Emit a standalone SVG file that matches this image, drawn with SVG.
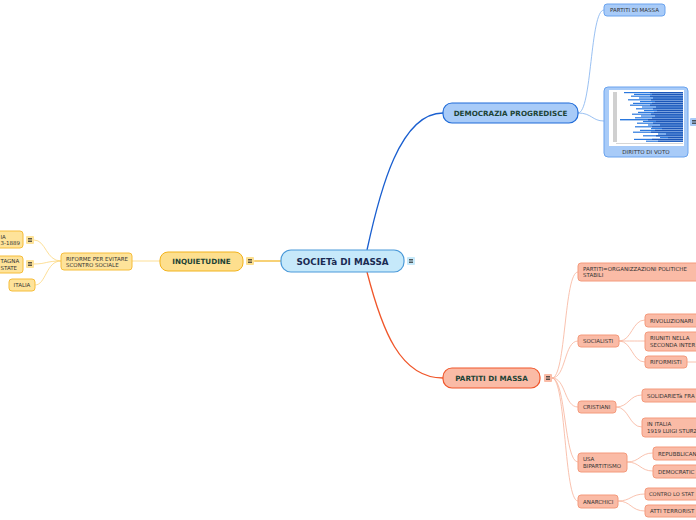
<svg xmlns="http://www.w3.org/2000/svg" width="696" height="520" viewBox="0 0 696 520">
<defs>
<style>
text{font-family:"DejaVu Sans","Liberation Sans",sans-serif;}
.main{font-weight:bold;font-size:7.2px;fill:#1d4436;}
.small{font-size:5.5px;fill:#333;}
.yel{fill:#fee39a;stroke:#f6bd3a;stroke-width:1;}
.yelmain{fill:#fddf8e;stroke:#f2b31c;stroke-width:1;}
.blue{fill:#a8cbf8;stroke:#6aa3ee;stroke-width:1;}
.bluemain{fill:#a8cbf8;stroke:#1f6bd8;stroke-width:1.2;}
.sal{fill:#fabba6;stroke:#f49a7c;stroke-width:1;}
.salmain{fill:#fabba6;stroke:#f0562a;stroke-width:1.2;}
.icon line{stroke:#333;stroke-width:0.8;}
.c{fill:none;}
</style>
</defs>
<g id="connectors">
<path class="c" d="M367,250 C380,190 400,113 443,113" stroke="#1a5fd0" stroke-width="1.3"/>
<path class="c" d="M367,272 C382,330 400,378 443,378" stroke="#f0562a" stroke-width="1.3"/>
<path class="c" d="M254,261 L281,261" stroke="#f2b31c" stroke-width="1.2"/>
<path class="c" d="M160,261 L132,261" stroke="#fcd77c" stroke-width="0.8"/>
<path class="c" d="M61,261 C46,261 46,240 34,240" stroke="#fcd77c" stroke-width="0.8"/>
<path class="c" d="M61,261 C46,261 46,264 34,264" stroke="#fcd77c" stroke-width="0.8"/>
<path class="c" d="M61,261 C46,261 46,285 35,285" stroke="#fcd77c" stroke-width="0.8"/>
<path class="c" d="M578,113 C592,113 590,10 604,10" stroke="#7fb0ef" stroke-width="0.8"/>
<path class="c" d="M578,113 C592,113 592,121 604,121" stroke="#7fb0ef" stroke-width="0.8"/>
<g stroke="#f8b39a" stroke-width="0.8" fill="none">
<path d="M552,378 C566,378 564,272 578,272"/>
<path d="M552,378 C566,378 564,341 578,341"/>
<path d="M552,378 C566,378 564,407 578,407"/>
<path d="M552,378 C566,378 564,462 578,462"/>
<path d="M552,378 C566,378 564,501 578,501"/>
<path d="M619,341 C632,341 632,320 645,320"/>
<path d="M619,341 C632,341 632,341 645,341"/>
<path d="M619,341 C632,341 632,362 645,362"/>
<path d="M687,362 L696,362"/>
<path d="M616,407 C629,407 629,395 642,395"/>
<path d="M616,407 C629,407 629,427 642,427"/>
<path d="M627,462 C640,462 640,453 653,453"/>
<path d="M627,462 C640,462 640,471 653,471"/>
<path d="M618,501 C631,501 631,494 645,494"/>
<path d="M618,501 C631,501 631,511 645,511"/>
</g>
</g>
<g id="central">
<rect x="281" y="250" width="123" height="22" rx="10" fill="#c6e9fa" stroke="#4b9ad9" stroke-width="1.2"/>
<text x="342.5" y="264.8" text-anchor="middle" font-weight="bold" font-size="8.8" fill="#1a2b52">SOCIETà DI MASSA</text>
<g class="icon"><rect x="407" y="257" width="8" height="8" rx="1" fill="#c6e9fa"/><line x1="409" y1="259.5" x2="413" y2="259.5"/><line x1="409" y1="261" x2="413" y2="261"/><line x1="409" y1="262.5" x2="413" y2="262.5"/></g>
</g>
<g id="inquietudine">
<rect x="160" y="252" width="83" height="19" rx="8" class="yelmain"/>
<text x="201.5" y="264" text-anchor="middle" class="main">INQUIETUDINE</text>
<g class="icon"><rect x="246" y="257" width="8" height="8" rx="1" fill="#fddf8e"/><line x1="248" y1="259.5" x2="252" y2="259.5"/><line x1="248" y1="261" x2="252" y2="261"/><line x1="248" y1="262.5" x2="252" y2="262.5"/></g>
</g>
<g id="riforme">
<rect x="61" y="253" width="71" height="17" rx="3" class="yel"/>
<text x="66" y="260.5" class="small">RIFORME PER EVITARE</text>
<text x="66" y="267" class="small">SCONTRO SOCIALE</text>
</g>
<g id="germania">
<rect x="-20" y="231" width="43" height="17" rx="3" class="yel"/>
<text x="0.5" y="238.5" class="small">IA</text>
<text x="0.5" y="245" class="small">3-1889</text>
<g class="icon"><rect x="26" y="236" width="8" height="8" rx="1" fill="#fee39a"/><line x1="28" y1="238.5" x2="32" y2="238.5"/><line x1="28" y1="240" x2="32" y2="240"/><line x1="28" y1="241.5" x2="32" y2="241.5"/></g>
</g>
<g id="granbretagna">
<rect x="-20" y="256" width="43" height="17" rx="3" class="yel"/>
<text x="0.5" y="263" class="small">TAGNA</text>
<text x="0.5" y="269.5" class="small">STATE</text>
<g class="icon"><rect x="26" y="260" width="8" height="8" rx="1" fill="#fee39a"/><line x1="28" y1="262.5" x2="32" y2="262.5"/><line x1="28" y1="264" x2="32" y2="264"/><line x1="28" y1="265.5" x2="32" y2="265.5"/></g>
</g>
<g id="italia">
<rect x="9" y="279" width="26" height="12" rx="3" class="yel"/>
<text x="22" y="287" text-anchor="middle" class="small">ITALIA</text>
</g>
<g id="democrazia">
<rect x="443" y="103" width="135" height="20" rx="9" class="bluemain"/>
<text x="510.5" y="115.5" text-anchor="middle" class="main">DEMOCRAZIA PROGREDISCE</text>
</g>
<g id="partiti-top">
<rect x="604" y="4" width="61" height="12" rx="3" class="blue"/>
<text x="634.5" y="12" text-anchor="middle" class="small">PARTITI DI MASSA</text>
</g>
<g id="diritto">
<rect x="604" y="87" width="84" height="70" rx="4" class="blue"/>
<rect x="609" y="90" width="75" height="56" fill="#fff"/>
<g fill="#d0d0d0">
<rect x="613" y="92" width="4" height="50"/>
</g>
<g fill="#2a78de">
<rect x="624" y="92" width="59" height="1.2"/>
<rect x="634" y="93.8" width="49" height="1.2"/>
<rect x="631" y="95.6" width="52" height="1.2"/>
<rect x="639" y="97.4" width="44" height="1.2"/>
<rect x="628" y="99.2" width="55" height="1.2"/>
<rect x="640" y="101" width="43" height="1.2"/>
<rect x="633" y="102.8" width="50" height="1.2"/>
<rect x="630" y="104.6" width="53" height="1.2"/>
<rect x="642" y="106.4" width="41" height="1.2"/>
<rect x="636" y="108.2" width="47" height="1.2"/>
<rect x="644" y="110" width="39" height="1.2"/>
<rect x="638" y="111.8" width="45" height="1.2"/>
<rect x="632" y="113.6" width="51" height="1.2"/>
<rect x="641" y="115.4" width="42" height="1.2"/>
<rect x="635" y="117.2" width="48" height="1.2"/>
<rect x="620" y="119" width="63" height="1.4"/>
<rect x="643" y="120.8" width="40" height="1.2"/>
<rect x="637" y="122.6" width="46" height="1.2"/>
<rect x="648" y="124.4" width="35" height="1.2"/>
<rect x="635" y="126.2" width="48" height="1.2"/>
<rect x="651" y="128" width="32" height="1.2"/>
<rect x="640" y="129.8" width="43" height="1.2"/>
<rect x="633" y="131.6" width="50" height="1.2"/>
<rect x="658" y="133.4" width="25" height="1.2"/>
<rect x="643" y="135.2" width="40" height="1.2"/>
<rect x="660" y="137" width="23" height="1.2"/>
<rect x="634" y="138.8" width="49" height="1.2"/>
<rect x="646" y="140.6" width="37" height="1.2"/>
</g>
<g fill="#1c56b8">
<rect x="650" y="92" width="33" height="1.2"/>
<rect x="652" y="93.8" width="31" height="1.2"/>
<rect x="650" y="95.6" width="33" height="1.2"/>
<rect x="653" y="97.4" width="30" height="1.2"/>
<rect x="651" y="99.2" width="32" height="1.2"/>
<rect x="655" y="101" width="28" height="1.2"/>
<rect x="652" y="102.8" width="31" height="1.2"/>
<rect x="650" y="104.6" width="33" height="1.2"/>
<rect x="656" y="106.4" width="27" height="1.2"/>
<rect x="653" y="108.2" width="30" height="1.2"/>
<rect x="657" y="110" width="26" height="1.2"/>
<rect x="654" y="111.8" width="29" height="1.2"/>
<rect x="651" y="113.6" width="32" height="1.2"/>
<rect x="655" y="115.4" width="28" height="1.2"/>
<rect x="652" y="117.2" width="31" height="1.2"/>
<rect x="648" y="119" width="35" height="1.4"/>
<rect x="656" y="120.8" width="27" height="1.2"/>
<rect x="653" y="122.6" width="30" height="1.2"/>
<rect x="660" y="124.4" width="23" height="1.2"/>
<rect x="652" y="126.2" width="31" height="1.2"/>
<rect x="662" y="128" width="21" height="1.2"/>
<rect x="655" y="129.8" width="28" height="1.2"/>
<rect x="651" y="131.6" width="32" height="1.2"/>
<rect x="666" y="133.4" width="17" height="1.2"/>
<rect x="656" y="135.2" width="27" height="1.2"/>
<rect x="668" y="137" width="15" height="1.2"/>
<rect x="652" y="138.8" width="31" height="1.2"/>
<rect x="658" y="140.6" width="25" height="1.2"/>
</g>
<rect x="616" y="143" width="67" height="0.6" fill="#bbb"/>
<text x="646" y="154" text-anchor="middle" class="small">DIRITTO DI VOTO</text>
<g class="icon"><rect x="690" y="118" width="8" height="8" rx="1" fill="#a8cbf8"/><line x1="692" y1="120.5" x2="696" y2="120.5"/><line x1="692" y1="122" x2="696" y2="122"/><line x1="692" y1="123.5" x2="696" y2="123.5"/></g>
</g>
<g id="partiti">
<rect x="443" y="368" width="97" height="20" rx="9" class="salmain"/>
<text x="491.5" y="380.5" text-anchor="middle" class="main">PARTITI DI MASSA</text>
<g class="icon"><rect x="544" y="374" width="8" height="8" rx="1" fill="#fabba6"/><line x1="546" y1="376.5" x2="550" y2="376.5"/><line x1="546" y1="378" x2="550" y2="378"/><line x1="546" y1="379.5" x2="550" y2="379.5"/></g>
</g>
<g id="organizzazioni">
<rect x="578" y="263" width="125" height="18" rx="3" class="sal"/>
<text x="583" y="270.5" class="small">PARTITI=ORGANIZZAZIONI POLITICHE</text>
<text x="583" y="277" class="small">STABILI</text>
</g>
<g id="socialisti">
<rect x="578" y="335" width="41" height="12" rx="3" class="sal"/>
<text x="583" y="343" class="small">SOCIALISTI</text>
</g>
<g id="rivoluzionari">
<rect x="645" y="314" width="60" height="13" rx="3" class="sal"/>
<text x="650" y="322.5" class="small">RIVOLUZIONARI</text>
</g>
<g id="riuniti">
<rect x="645" y="332" width="60" height="19" rx="3" class="sal"/>
<text x="650" y="340" class="small">RIUNITI NELLA</text>
<text x="650" y="346.5" class="small">SECONDA INTER</text>
</g>
<g id="riformisti">
<rect x="645" y="356" width="42" height="12" rx="3" class="sal"/>
<text x="650" y="364" class="small">RIFORMISTI</text>
</g>
<g id="cristiani">
<rect x="578" y="401" width="38" height="12" rx="3" class="sal"/>
<text x="583" y="409" class="small">CRISTIANI</text>
</g>
<g id="solidarieta">
<rect x="642" y="389" width="60" height="13" rx="3" class="sal"/>
<text x="647" y="397.5" class="small">SOLIDARIETà FRA</text>
</g>
<g id="sturzo">
<rect x="642" y="418" width="60" height="19" rx="3" class="sal"/>
<text x="647" y="426" class="small">IN ITALIA</text>
<text x="647" y="432.5" class="small">1919 LUIGI STURZ</text>
</g>
<g id="usa">
<rect x="578" y="453" width="49" height="19" rx="3" class="sal"/>
<text x="583" y="461" class="small">USA</text>
<text x="583" y="467.5" class="small">BIPARTITISMO</text>
</g>
<g id="repubblicani">
<rect x="653" y="447" width="50" height="13" rx="3" class="sal"/>
<text x="658" y="455.5" class="small">REPUBBLICAN</text>
</g>
<g id="democratici">
<rect x="653" y="465" width="50" height="13" rx="3" class="sal"/>
<text x="658" y="473.5" class="small">DEMOCRATIC</text>
</g>
<g id="anarchici">
<rect x="578" y="495" width="40" height="13" rx="3" class="sal"/>
<text x="583" y="503.5" class="small">ANARCHICI</text>
</g>
<g id="controstato">
<rect x="645" y="488" width="60" height="12" rx="3" class="sal"/>
<text x="649" y="496" class="small" font-size="5.2" style="font-size:5.2px">CONTRO LO STAT</text>
</g>
<g id="terroristici">
<rect x="645" y="505" width="60" height="12" rx="3" class="sal"/>
<text x="650" y="513" class="small">ATTI TERRORIST</text>
</g>
</svg>
